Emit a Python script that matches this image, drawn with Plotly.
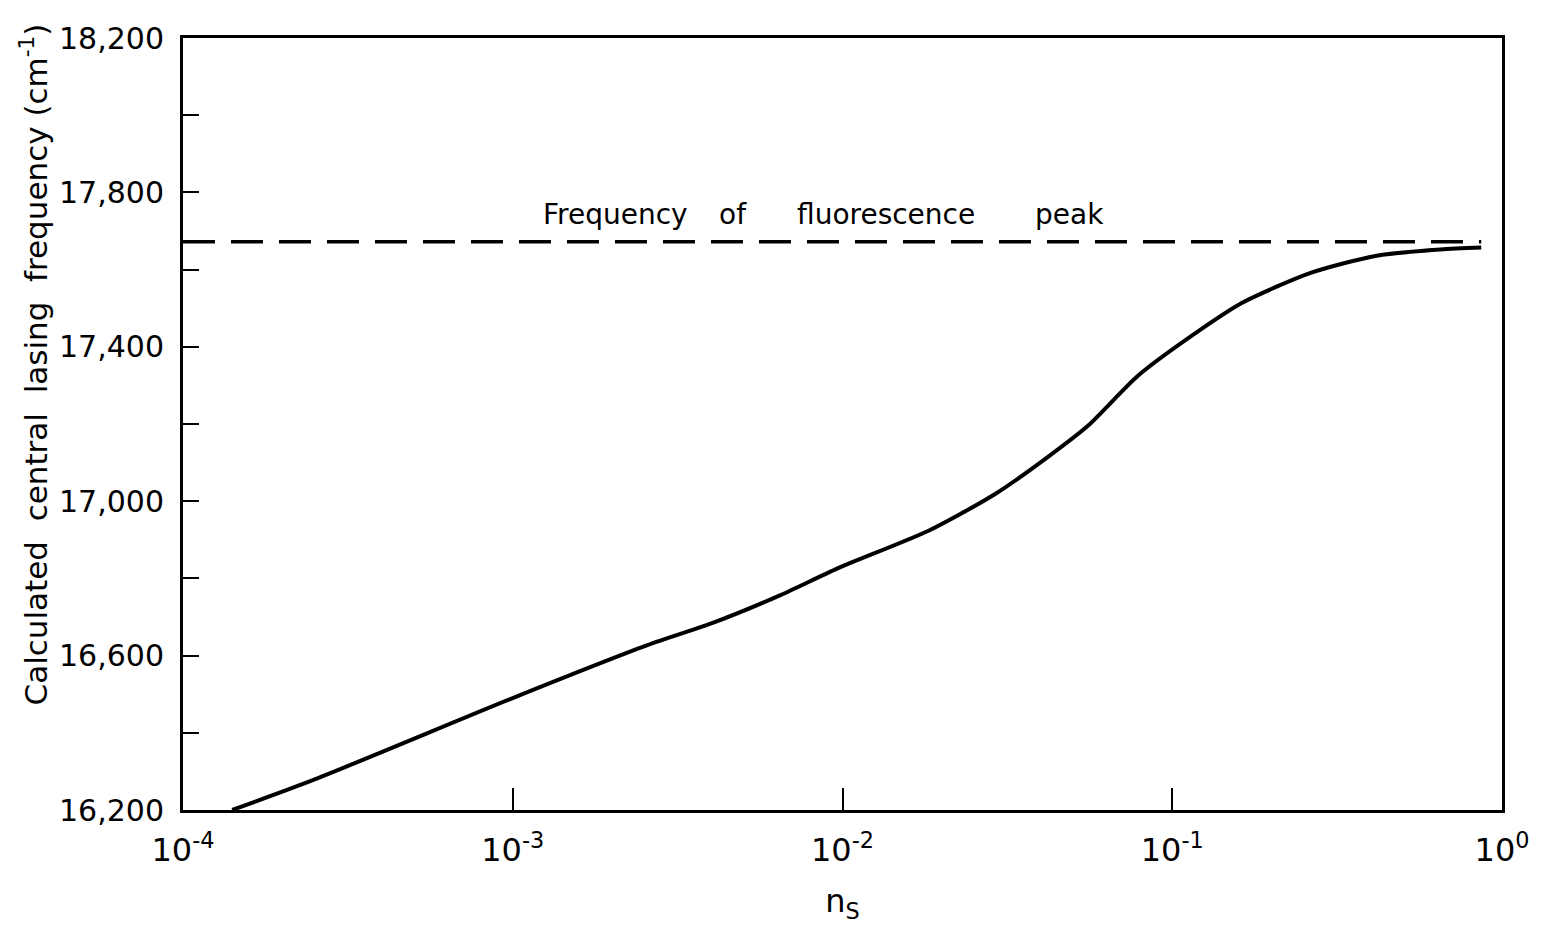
import plotly.graph_objects as go

# Calculated central lasing frequency vs n_s
ns = [1.41e-4, 2.52e-4, 1.0e-3, 2.56e-3, 4.08e-3, 6.46e-3, 9.66e-3, 1.83e-2,
      2.92e-2, 4.2e-2, 5.56e-2, 7.87e-2, 1.17e-1, 1.63e-1, 2.64e-1, 4.17e-1,
      6.5e-1, 8.65e-1]
freq = [16200, 16280, 16490, 16627, 16686, 16756, 16826, 16924,
        17020, 17115, 17196, 17325, 17434, 17514, 17592, 17636,
        17652, 17657]

# Fluorescence peak reference level
peak_x = [1e-4, 0.865]
peak_y = [17672, 17672]

y_ticks = list(range(16200, 18201, 200))
y_labels = [f"{v:,}" if (v - 16200) % 400 == 0 else "" for v in y_ticks]
x_ticks = [1e-4, 1e-3, 1e-2, 1e-1, 1e0]
x_labels = ["10<sup>-4</sup>", "10<sup>-3</sup>", "10<sup>-2</sup>",
            "10<sup>-1</sup>", "10<sup>0</sup>"]

font = "DejaVu Sans"

fig = go.Figure()
fig.add_trace(go.Scatter(x=peak_x, y=peak_y, mode="lines",
                         line=dict(color="black", width=3.5, dash="32px,16px"),
                         hoverinfo="skip"))
fig.add_trace(go.Scatter(x=ns, y=freq, mode="lines",
                         line=dict(color="black", width=4, shape="spline", smoothing=0.7)))

words = [("Frequency", 618), ("of", 736), ("fluorescence", 890), ("peak", 1074)]
for w, px in words:
    fig.add_annotation(x=-4 + (px - 183) / 331.5, y=17742, xref="x", yref="y",
                       text=w, showarrow=False,
                       font=dict(family=font, size=28, color="black"))

# Vertical axis title, placed as a rotated annotation
fig.add_annotation(x=-0.113, y=0.577, xref="paper", yref="paper",
                   xanchor="center", yanchor="middle",
                   text="Calculated  central  lasing  frequency (cm<sup>-1</sup>)",
                   textangle=-90, showarrow=False,
                   font=dict(family=font, size=31, color="black"))

fig.update_layout(
    width=1541, height=950,
    margin=dict(l=183, r=30, t=38, b=140),
    paper_bgcolor="white", plot_bgcolor="white",
    showlegend=False,
    font=dict(family=font, color="black"),
)
fig.update_xaxes(
    type="log", range=[-4, 0],
    tickvals=x_ticks, ticktext=x_labels,
    ticks="inside", ticklen=22, tickwidth=2, tickcolor="black",
    tickfont=dict(size=32, family=font), ticklabelstandoff=10,
    ticklabeloverflow="allow",
    showline=True, linewidth=3, linecolor="black", mirror=True,
    showgrid=False, zeroline=False,
    title=dict(text="n<sub>S</sub>", font=dict(size=32, family=font), standoff=22),
)
fig.update_yaxes(
    range=[16200, 18200],
    tickvals=y_ticks, ticktext=y_labels,
    ticks="inside", ticklen=16, tickwidth=2, tickcolor="black",
    tickfont=dict(size=30, family=font), ticklabelstandoff=10,
    showline=True, linewidth=3, linecolor="black", mirror=True,
    showgrid=False, zeroline=False,
)

fig.write_html("out.html")
